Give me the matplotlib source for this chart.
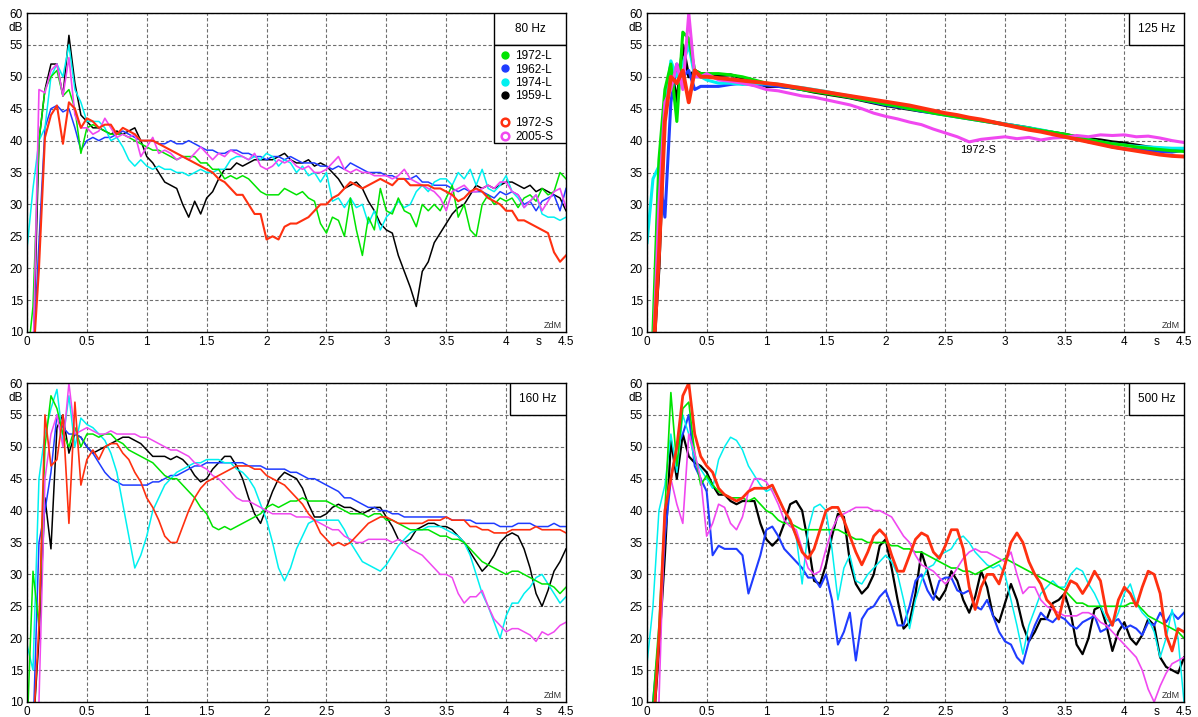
import numpy as np
import matplotlib.pyplot as plt
from matplotlib.lines import Line2D
from matplotlib.patches import Rectangle

plt.rcParams['font.family'] = ['Liberation Sans', 'DejaVu Sans']

# time grids (s)
t_fine = np.round(np.arange(0, 4.501, 0.05), 2)
t_125 = np.concatenate([np.round(np.arange(0, 0.501, 0.05), 2),
                        np.round(np.arange(0.6, 4.501, 0.1), 1)])

x_ticks = [0, 0.5, 1, 1.5, 2, 2.5, 3, 3.5, 4, 4.5]
x_labels = ['0', '0.5', '1', '1.5', '2', '2.5', '3', '3.5', '4', '4.5']
y_ticks = [10, 15, 20, 25, 30, 35, 40, 45, 50, 55, 60]

names = ['1972-L', '1962-L', '1974-L', '1959-L', '1972-S', '2005-S']
colors = ['#00e400', '#1f3cff', '#00f0f0', '#000000', '#ff3010', '#f048f0']

# ---- 80 Hz (dB), one value every 0.05 s ----
g80 = [5, 14, 40, 48, 50, 51, 47, 48, 45, 38,
       42, 42.5, 42, 41.5, 41, 41, 41, 40.5, 40, 39.5,
       39, 38.5, 38.5, 38, 37.5, 37, 37.5, 37.5, 37.5, 36.5,
       36.5, 35.5, 35.5, 34, 34.5, 34, 34.5, 34, 33, 32,
       31.5, 31.5, 31.5, 32.5, 32, 31.5, 32, 31, 30.5, 27,
       25.5, 28, 27.5, 25, 31, 26, 22, 28, 26, 32.5,
       29, 28.5, 31, 29, 28.5, 26.5, 30, 29, 30, 29,
       31, 33, 28, 30, 26, 25, 30, 31.5, 30, 31,
       30.5, 31, 29.5, 31, 31.5, 30.5, 32.5, 31.5, 32, 35,
       34]
b80 = [5, 5, 24, 42, 45, 45.5, 44.5, 45, 42, 38.5,
       40, 40.5, 40, 40.5, 40.5, 41, 41.5, 41, 40.5, 40,
       40, 40, 39.5, 39.5, 40, 39.5, 39.5, 40, 39.5, 39,
       38.5, 38.5, 38, 38, 38.5, 38.5, 38, 38, 37.5, 37.5,
       37, 37.5, 37.5, 37, 37.5, 37, 36.5, 36.5, 36.5, 36,
       36, 35.5, 36, 35.5, 36.5, 36, 35.5, 35, 35, 35,
       34.5, 34.5, 34, 34, 34, 34.5, 33.5, 33.5, 33, 33,
       33, 32.5, 32, 32.5, 32, 32, 32, 31.5, 31, 32,
       31.5, 32, 31.5, 30, 30.5, 29, 30.5, 31, 31.5, 29,
       32.5]
c80 = [23, 32.5, 40, 42, 50, 52, 50, 55, 48, 46,
       43, 43, 43, 42, 40, 40.5, 39, 37, 36, 37,
       36, 35.5, 36, 35.5, 35.5, 35, 35, 34.5, 35, 35.5,
       35, 35, 35.5, 35.5, 37, 37.5, 37.5, 37, 37.5, 37,
       38, 37.5, 36, 37, 36.5, 35, 36, 34.5, 35, 33.5,
       35, 30.5, 31, 29.5, 31, 29.5, 30, 27, 29, 26,
       28, 29, 30.5, 29.5, 30, 32, 33, 32, 33.5, 34,
       34, 33, 35, 34, 35.5, 33, 35.5, 32.5, 32, 33,
       34.5, 32, 31, 29.5, 30.5, 31.5, 28.5, 28, 28, 27.5,
       28]
k80 = [5, 5, 40, 48, 52, 52, 47, 56.5, 49, 44,
       43, 42, 42, 41.5, 41, 41.5, 41, 41.5, 42, 40,
       37.5, 36.5, 35, 33.5, 33, 32.5, 30, 28, 30.5, 28.5,
       31, 32, 34, 35.5, 35.5, 36.5, 36, 36.5, 37, 37,
       37, 37, 37.5, 38, 37, 36.5, 36.5, 37, 36, 36.5,
       36, 35, 34, 32.5, 33, 33.5, 32.5, 30.5, 29, 27,
       26, 25.5, 22, 19.5, 17, 14, 19.5, 21, 24, 25.5,
       27, 28.5, 29.5, 30, 31.5, 33, 32.5, 33, 32.5, 33,
       33.5, 33.5, 33, 32.5, 33, 32, 32.5, 32, 31.5, 31,
       29]
r80 = [5, 5, 20, 40.5, 44, 45.5, 39.5, 46, 45, 42,
       43.5, 43, 42, 42.5, 42.5, 41, 42, 41.5, 41, 40,
       40, 40, 39.5, 39, 38.5, 38, 37.5, 37, 36.5, 36,
       35.5, 35, 34, 33.5, 32.5, 31.5, 31.5, 30, 28.5, 28.5,
       24.5, 25, 24.5, 26.5, 27, 27, 27.5, 28, 29, 30,
       30, 31, 31.5, 32.5, 33.5, 33, 32.5, 33, 33.5, 34,
       33.5, 33, 34, 34, 33, 33, 33, 33, 32.5, 32.5,
       32, 31.5, 30.5, 31, 32, 32.5, 32, 31, 30.5, 30,
       29, 29, 27.5, 27.5, 27, 26.5, 26, 25.5, 22.5, 21,
       22]
m80 = [5, 5, 48, 47.5, 51, 52, 47, 53, 44, 42,
       42, 41, 41.5, 43.5, 42, 40.5, 41, 40.5, 41, 37.5,
       39, 40.5, 38, 38.5, 38, 37, 37.5, 37, 38, 39,
       38, 37, 38, 37.5, 38.5, 38, 37.5, 37, 38, 36,
       35.5, 36, 37, 36.5, 37, 36, 35.5, 36, 35, 35,
       35.5, 36.5, 37.5, 35.5, 35, 35.5, 35, 35, 34.5, 34.5,
       34.5, 34, 34.5, 35.5, 34, 33.5, 33, 32.5, 32, 31,
       29, 32, 32.5, 33, 32, 32, 32.5, 33, 32.5, 33.5,
       33.5, 32, 31.5, 29.5, 30.5, 31.5, 29, 30.5, 32, 32.5,
       29.5]

# ---- 125 Hz (dB), 0.05 s up to 0.5 s, then every 0.1 s ----
g125 = [5, 10, 37, 48, 52, 43, 57, 56, 51, 50.5, 50.5,
        50.5, 50.3, 50, 49.5, 49, 48.8, 48.4, 48, 47.7, 47.4,
        47.1, 46.8, 46.4, 46.1, 45.7, 45.4, 45, 44.7, 44.3, 44,
        43.7, 43.4, 43.1, 42.8, 42.5, 42.2, 41.9, 41.6, 41.3, 41,
        40.6, 40.2, 39.8, 39.5, 39.3, 39, 38.8, 38.6, 38.4, 38.3]
b125 = [5, 5, 35, 28, 46, 52, 50, 51, 48, 48.5, 48.5,
        48.5, 48.8, 49, 48.7, 48.7, 48.5, 48.3, 48, 47.8, 47.5,
        47.2, 46.8, 46.4, 46, 45.6, 45.3, 45, 44.6, 44.3, 44,
        43.7, 43.4, 43.1, 42.8, 42.5, 42.2, 41.8, 41.5, 41.2, 40.7,
        40.3, 39.8, 39.5, 39, 38.7, 38.6, 38.4, 38.3, 38.2, 38.5]
c125 = [24, 34, 36, 45, 52.5, 50, 52, 55, 50, 50, 49.5,
        49, 49, 48.8, 48.9, 48.9, 48.8, 48.5, 48.3, 48, 47.7,
        47.3, 47, 46.6, 46.2, 45.8, 45.5, 45.1, 44.8, 44.4, 44.1,
        43.8, 43.5, 43.2, 42.9, 42.6, 42.3, 42, 41.7, 41.3, 40.9,
        40.5, 40.1, 39.8, 39.5, 39.3, 39.1, 39, 38.9, 38.8, 38.8]
k125 = [5, 5, 20, 45, 52, 46, 55, 50, 51, 50.5, 50.5,
        50.2, 50.3, 49.8, 49.3, 48.5, 48.5, 48.3, 48, 47.6, 47.3,
        47, 46.7, 46.3, 45.9, 45.5, 45.2, 44.9, 44.6, 44.4, 44.1,
        43.8, 43.5, 43.2, 42.9, 42.6, 42.3, 42, 41.6, 41.3, 41,
        40.6, 40.3, 40.1, 39.8, 39.6, 39.3, 39, 38.8, 38.6, 38.5]
r125 = [5, 5, 22, 43, 50, 49, 51, 46, 51, 50, 50,
        49.8, 49.6, 49.4, 49.2, 49, 48.8, 48.5, 48.2, 47.9, 47.6,
        47.3, 47, 46.7, 46.4, 46.1, 45.8, 45.5, 45.1, 44.7, 44.3,
        44, 43.6, 43.3, 42.9, 42.5, 42.1, 41.7, 41.4, 41, 40.6,
        40.2, 39.8, 39.4, 39, 38.7, 38.4, 38.1, 37.8, 37.6, 37.5]
m125 = [5, 5, 30, 46, 48, 52, 48, 60, 50, 50, 50.5,
        49.5, 49.3, 49, 48.6, 48, 47.8, 47.4, 47, 46.8, 46.4,
        46, 45.6, 45, 44.3, 43.8, 43.4, 42.9, 42.5, 41.8, 41.2,
        40.6, 39.8, 40.2, 40.4, 40.6, 40.3, 40.5, 40.1, 40.4, 40.5,
        40.8, 40.6, 40.9, 40.8, 40.9, 40.6, 40.7, 40.4, 40, 39.7]

# ---- 160 Hz (dB), every 0.05 s ----
g160 = [5, 30.5, 22, 50, 58, 56, 52, 50, 53, 50,
        52, 52, 51.5, 52, 52, 51, 50.5, 49.5, 49, 48.5,
        48, 47.5, 46.5, 45.5, 45, 45, 44, 43, 42, 40.5,
        39.5, 37.5, 37, 37.5, 37, 37.5, 38, 38.5, 39, 39.5,
        40.5, 41, 40.5, 41, 41.5, 41.5, 42, 41.5, 41.5, 41.5,
        41.5, 41, 40.5, 40, 39.5, 39.5, 39.5, 39, 39.5, 39.5,
        38.5, 38.5, 38, 37.5, 37, 37, 37, 37, 36.5, 36,
        36, 35.5, 35.5, 35, 34, 33, 32, 31.5, 31, 30.5,
        30, 30.5, 30.5, 30, 29.5, 29, 28.5, 28.5, 28, 27,
        28]
b160 = [5, 5, 35, 40, 46, 55, 53, 52, 52, 51.5,
        50, 49, 47.5, 46, 45, 44.5, 44, 44, 44, 44,
        44, 44.5, 44.5, 45, 45.5, 45.5, 46, 46.5, 47, 47,
        47.5, 47.5, 47.5, 47.5, 47.5, 47.5, 47.5, 47, 47, 47,
        46.5, 46.5, 46.5, 46.5, 46, 46, 45.5, 45, 45, 44.5,
        44, 43.5, 43, 42, 42, 41.5, 41, 40.5, 40.5, 40,
        40, 39.5, 39.5, 39, 39, 39, 39, 39, 39, 39,
        39, 38.5, 38.5, 38.5, 38.5, 38, 38, 38, 38, 37.5,
        37.5, 37.5, 38, 38, 38, 37.5, 37.5, 37.5, 38, 37.5,
        37.5]
c160 = [19, 15, 45, 52, 56, 59, 51, 58, 50, 54.5,
        53.5, 53, 52, 51, 49, 46, 41, 36, 31, 33,
        36, 40, 42, 44, 45, 46, 46.5, 47, 47.5, 47.5,
        48, 48, 48, 47.5, 47.5, 46.5, 46, 45, 43.5, 41,
        38.5, 35, 31, 29, 31, 34, 36, 38, 38.5, 38.5,
        38.5, 38.5, 38.5, 37, 35, 33.5, 32, 31.5, 31, 30.5,
        31.5, 33, 34.5, 35.5, 36.5, 37, 37, 37.5, 37.5, 37.5,
        37, 36.5, 36, 35, 33, 30, 27, 25, 22.5, 20,
        23.5, 25.5, 25.5, 27, 28, 29.5, 30, 28.5, 27, 25.5,
        26.5]
k160 = [5, 5, 20, 42, 34, 53, 55, 49, 52, 51.5,
        50, 49, 49.5, 50, 50.5, 51, 51.5, 51.5, 51, 50.5,
        49.5, 48.5, 48.5, 48.5, 48, 48.5, 48, 47, 45.5, 44.5,
        45, 46.5, 47.5, 48.5, 48.5, 47, 45, 42, 39.5, 38,
        40.5, 43, 45, 46, 45.5, 45, 43.5, 41, 39, 39,
        39.5, 40.5, 41, 40.5, 40.5, 40, 39.5, 40, 40.5, 40.5,
        39, 37.5, 35.5, 35, 35.5, 37, 37.5, 38, 38, 37.5,
        37.5, 37, 36, 35, 33.5, 32, 30.5, 31.5, 33, 35,
        36, 36.5, 36, 34, 31, 27, 25, 27.5, 30.5, 32,
        34]
r160 = [5, 5, 22, 55, 47, 48, 55, 38, 57, 44,
        48, 49.5, 48, 50, 50.5, 50.5, 49, 48, 46, 44.5,
        42, 40.5, 38.5, 36, 35, 35, 37.5, 40, 42, 43.5,
        44.5, 45, 45.5, 46, 46.5, 47, 47, 47, 46.5, 46.5,
        45.5, 45, 44.5, 44, 43, 42, 41, 39.5, 38.5, 36.5,
        35.5, 34.5, 35, 34.5, 35, 36, 37, 38, 38.5, 39,
        39, 38.5, 38, 38, 38, 38, 38, 38.5, 38.5, 38.5,
        39, 38.5, 38.5, 38.5, 37.5, 37.5, 37, 37, 36.5, 36.5,
        36.5, 37, 37, 37, 37, 37.5, 37, 37, 37, 37,
        36.5]
m160 = [5, 5, 10, 45, 52, 55, 50, 60, 52, 52.5,
        53, 52.5, 52, 52, 52.5, 52, 52, 52, 52, 51.5,
        51.5, 51, 50.5, 50, 49.5, 49.5, 49, 48.5, 47.5, 47,
        46.5, 45.5, 45, 44, 43, 42, 41.5, 41.5, 41, 40.5,
        40, 39.5, 39.5, 39.5, 39.5, 39, 39, 39, 38.5, 38,
        37.5, 37, 37, 36, 35.5, 35, 35, 35.5, 35.5, 35.5,
        35.5, 35, 35.5, 35, 34, 33.5, 33, 32, 31, 30,
        30, 29.5, 27, 25.5, 26.5, 26.5, 27.5, 25, 23, 22,
        21, 21.5, 21.5, 21, 20.5, 19.5, 21, 20.5, 21, 22,
        22.5]

# ---- 500 Hz (dB), every 0.05 s ----
g500 = [5, 10, 22, 40, 58.5, 47, 56, 57, 49, 44,
        45.5, 44, 43, 42.5, 42, 42, 42, 41.5, 42, 41,
        40, 39.5, 38.5, 38, 38, 37.5, 37, 37, 37, 37,
        37, 37, 37, 36.5, 36, 35.5, 35.5, 35, 35, 35,
        35, 34.5, 34.5, 34, 34, 33.5, 33.5, 33, 32.5, 32,
        31.5, 31, 31, 30.5, 30.5, 30, 30.5, 31, 31.5, 32,
        32.5, 32, 31.5, 31, 30.5, 30, 29.5, 29, 28.5, 28,
        27.5, 26.5, 25.5, 25.5, 25, 25, 25, 25, 25, 25,
        25, 25.5, 25.5, 24.5, 23.5, 23, 22.5, 22, 21.5, 21,
        20]
b500 = [5, 10, 20, 36, 45, 50, 52, 55, 47, 45,
        43, 33, 34.5, 34, 34, 34, 33, 27, 30, 33,
        37, 37.5, 36, 34, 33, 32, 31, 29.5, 29.5, 28,
        30, 26, 19, 21, 24, 16.5, 23, 24.5, 25, 26.5,
        27.5, 25, 22, 22, 25, 29, 30, 27.5, 26, 29,
        29.5, 29.5, 27.5, 27, 27.5, 25, 24.5, 26, 23.5, 21,
        19.5, 19, 17, 16, 19.5, 22, 24, 23, 22.5, 23.5,
        23, 22, 21.5, 22.5, 23, 23.5, 21, 21.5, 22.5, 23,
        21.5, 22, 21.5, 20.5, 22.5, 22, 24, 22.5, 24, 23,
        24]
c500 = [16, 25, 40, 44, 52, 46, 55, 52, 48, 46.5,
        45, 43.5, 48, 50, 51.5, 51, 49.5, 47, 45.5, 44,
        43, 43.5, 42, 40, 38, 36, 28.5, 37, 40.5, 41,
        40, 34, 26, 31, 33, 29, 28.5, 30, 31, 32,
        33, 32, 30, 26, 21.5, 26, 29, 31, 31.5, 33,
        33.5, 34, 35.5, 36, 35, 33.5, 32.5, 31.5, 31, 31.5,
        30, 26, 22, 17.5, 22, 24.5, 27, 28, 29, 28,
        28, 30, 31, 30.5, 28.5, 27, 25, 23, 22, 24,
        27, 28.5, 25.5, 24, 23, 21, 17, 20, 24.5, 20,
        10]
k500 = [5, 5, 18, 33, 51, 45, 52, 48.5, 47.5, 47,
        46, 44, 42.5, 42.5, 41.5, 41, 41.5, 41.5, 41.5, 38,
        35.5, 34.5, 35.5, 38, 41, 41.5, 40, 35, 29, 28.5,
        31.5, 36, 39.5, 39, 32, 28.5, 27, 28, 30, 34.5,
        35.5, 31, 26, 21.5, 22.5, 27, 33.5, 30.5, 27, 26,
        27.5, 30.5, 29, 26, 24, 26.5, 30.5, 28, 23.5, 22.5,
        25.5, 28.5, 26, 22, 19.5, 21, 23, 23, 25.5, 26,
        27, 24, 19, 17.5, 20, 24.5, 25, 22, 18, 21,
        22.5, 20, 19, 20.5, 23, 22, 17, 15.5, 15, 14.5,
        17]
r500 = [5, 5, 20, 40, 45, 50, 58, 60, 52, 48.5,
        47, 46, 43.5, 42.5, 42, 41.5, 42, 43, 43.5, 43.5,
        43.5, 44, 42, 40, 38.5, 36, 33.5, 32.5, 34, 37,
        40, 40.5, 40.5, 38.5, 36, 33.5, 31.5, 33.5, 36, 37,
        36, 33, 30.5, 30.5, 33, 35.5, 36.5, 36, 33.5, 32.5,
        34.5, 37, 37, 34, 28, 24.5, 28, 30, 30, 28.5,
        31.5, 35, 36.5, 35, 32, 30, 28.5, 26, 25, 23,
        27, 29, 28.5, 27, 28.5, 30.5, 29, 24, 22, 26,
        28, 27, 25, 28, 30.5, 30, 27, 20.5, 18, 21.5,
        21]
m500 = [5, 5, 10, 40, 45, 41, 38, 52, 49, 45,
        36, 38, 41, 40.5, 38, 37, 39, 43, 45, 45,
        44.5, 43, 41, 38.5, 37.5, 37, 34, 31, 30, 30.5,
        34, 37, 39, 39.5, 40, 40.5, 40.5, 40.5, 40, 40,
        39.5, 39, 37.5, 36, 35, 33, 31.5, 31, 30.5, 29.5,
        28.5, 29.5, 31, 32.5, 33.5, 34, 33.5, 33.5, 33, 32.5,
        32, 33.5, 30, 27, 28, 28, 26, 25, 24.5, 24,
        23.5, 23.5, 23.5, 24, 24, 23.5, 22.5, 22, 21, 20,
        19, 18, 17, 15, 12, 10, 12.5, 14.5, 16, 16.5,
        17]

# drawing order: black, blue, cyan, green, magenta, red (red on top)
order = [3, 1, 2, 0, 5, 4]


def draw_panel(ax, t, curves, title, widths, box_left):
    for i in order:
        ax.plot(t, curves[i], color=colors[i], lw=widths[i],
                solid_joinstyle='round')
    ax.set_xlim(0, 4.5)
    ax.set_ylim(10, 60)
    ax.set_xticks(x_ticks)
    ax.set_xticklabels(x_labels)
    ax.set_yticks(y_ticks)
    ax.tick_params(length=0, labelsize=8.5, pad=3)
    ax.grid(True, color='#6e6e6e', linestyle=(0, (3, 2)), lw=0.8)
    for sp in ax.spines.values():
        sp.set_linewidth(1.0)
    ax.text(-0.008, 57.7, 'dB', transform=ax.get_yaxis_transform(),
            ha='right', va='center', fontsize=8.5)
    ax.text(4.27, -0.012, 's', transform=ax.get_xaxis_transform(),
            ha='center', va='top', fontsize=8.5)
    ax.text(0.993, 0.006, 'ZdM', transform=ax.transAxes, ha='right',
            va='bottom', fontsize=6.5, color='#333333')
    ax.add_patch(Rectangle((box_left, 0.9), 1 - box_left, 0.1,
                           transform=ax.transAxes, facecolor='white',
                           edgecolor='black', lw=1.0, zorder=5))
    ax.text((box_left + 1) / 2, 0.95, title, transform=ax.transAxes,
            ha='center', va='center', fontsize=8.5, zorder=6)


fig = plt.figure(figsize=(11.98, 7.17), dpi=100)
ax1 = fig.add_axes([27 / 1198, 1 - 332 / 717, 539 / 1198, 319 / 717])
ax2 = fig.add_axes([647 / 1198, 1 - 332 / 717, 537 / 1198, 319 / 717])
ax3 = fig.add_axes([27 / 1198, 1 - 702 / 717, 539 / 1198, 319 / 717])
ax4 = fig.add_axes([647 / 1198, 1 - 702 / 717, 537 / 1198, 319 / 717])

draw_panel(ax1, t_fine, [g80, b80, c80, k80, r80, m80], '80 Hz',
           [1.1, 1.1, 1.1, 1.1, 1.5, 1.2], 0.866)
draw_panel(ax2, t_125, [g125, b125, c125, k125, r125, m125], '125 Hz',
           [2.2, 2.2, 2.2, 2.2, 2.8, 2.2], 0.897)
draw_panel(ax3, t_fine, [g160, b160, c160, k160, r160, m160], '160 Hz',
           [1.1, 1.1, 1.1, 1.1, 1.2, 1.1], 0.897)
draw_panel(ax4, t_fine, [g500, b500, c500, k500, r500, m500], '500 Hz',
           [1.2, 1.5, 1.1, 1.6, 2.0, 1.2], 0.897)

ax2.text(2.77, 38.6, '1972-S', fontsize=8, ha='center', va='center')

# legend box under the 80 Hz header
ax1.add_patch(Rectangle((0.866, 0.594), 0.134, 0.306, transform=ax1.transAxes,
                        facecolor='white', edgecolor='black', lw=1.0, zorder=5))
handles = []
for i in range(4):
    handles.append(Line2D([], [], ls='', marker='o', markersize=5,
                          color=colors[i], label=names[i]))
handles.append(Line2D([], [], ls='', label=' '))
for i in (4, 5):
    handles.append(Line2D([], [], ls='', marker='o', markersize=5.5,
                          markerfacecolor='none', markeredgewidth=1.8,
                          markeredgecolor=colors[i], label=names[i]))
leg = ax1.legend(handles=handles, loc='upper left', bbox_to_anchor=(0.868, 0.9),
                 frameon=False, fontsize=8.5, handlelength=0.8,
                 handletextpad=0.5, labelspacing=0.12, borderpad=0.45,
                 borderaxespad=0)
leg.set_zorder(7)

fig.savefig('out.png', dpi=100)
